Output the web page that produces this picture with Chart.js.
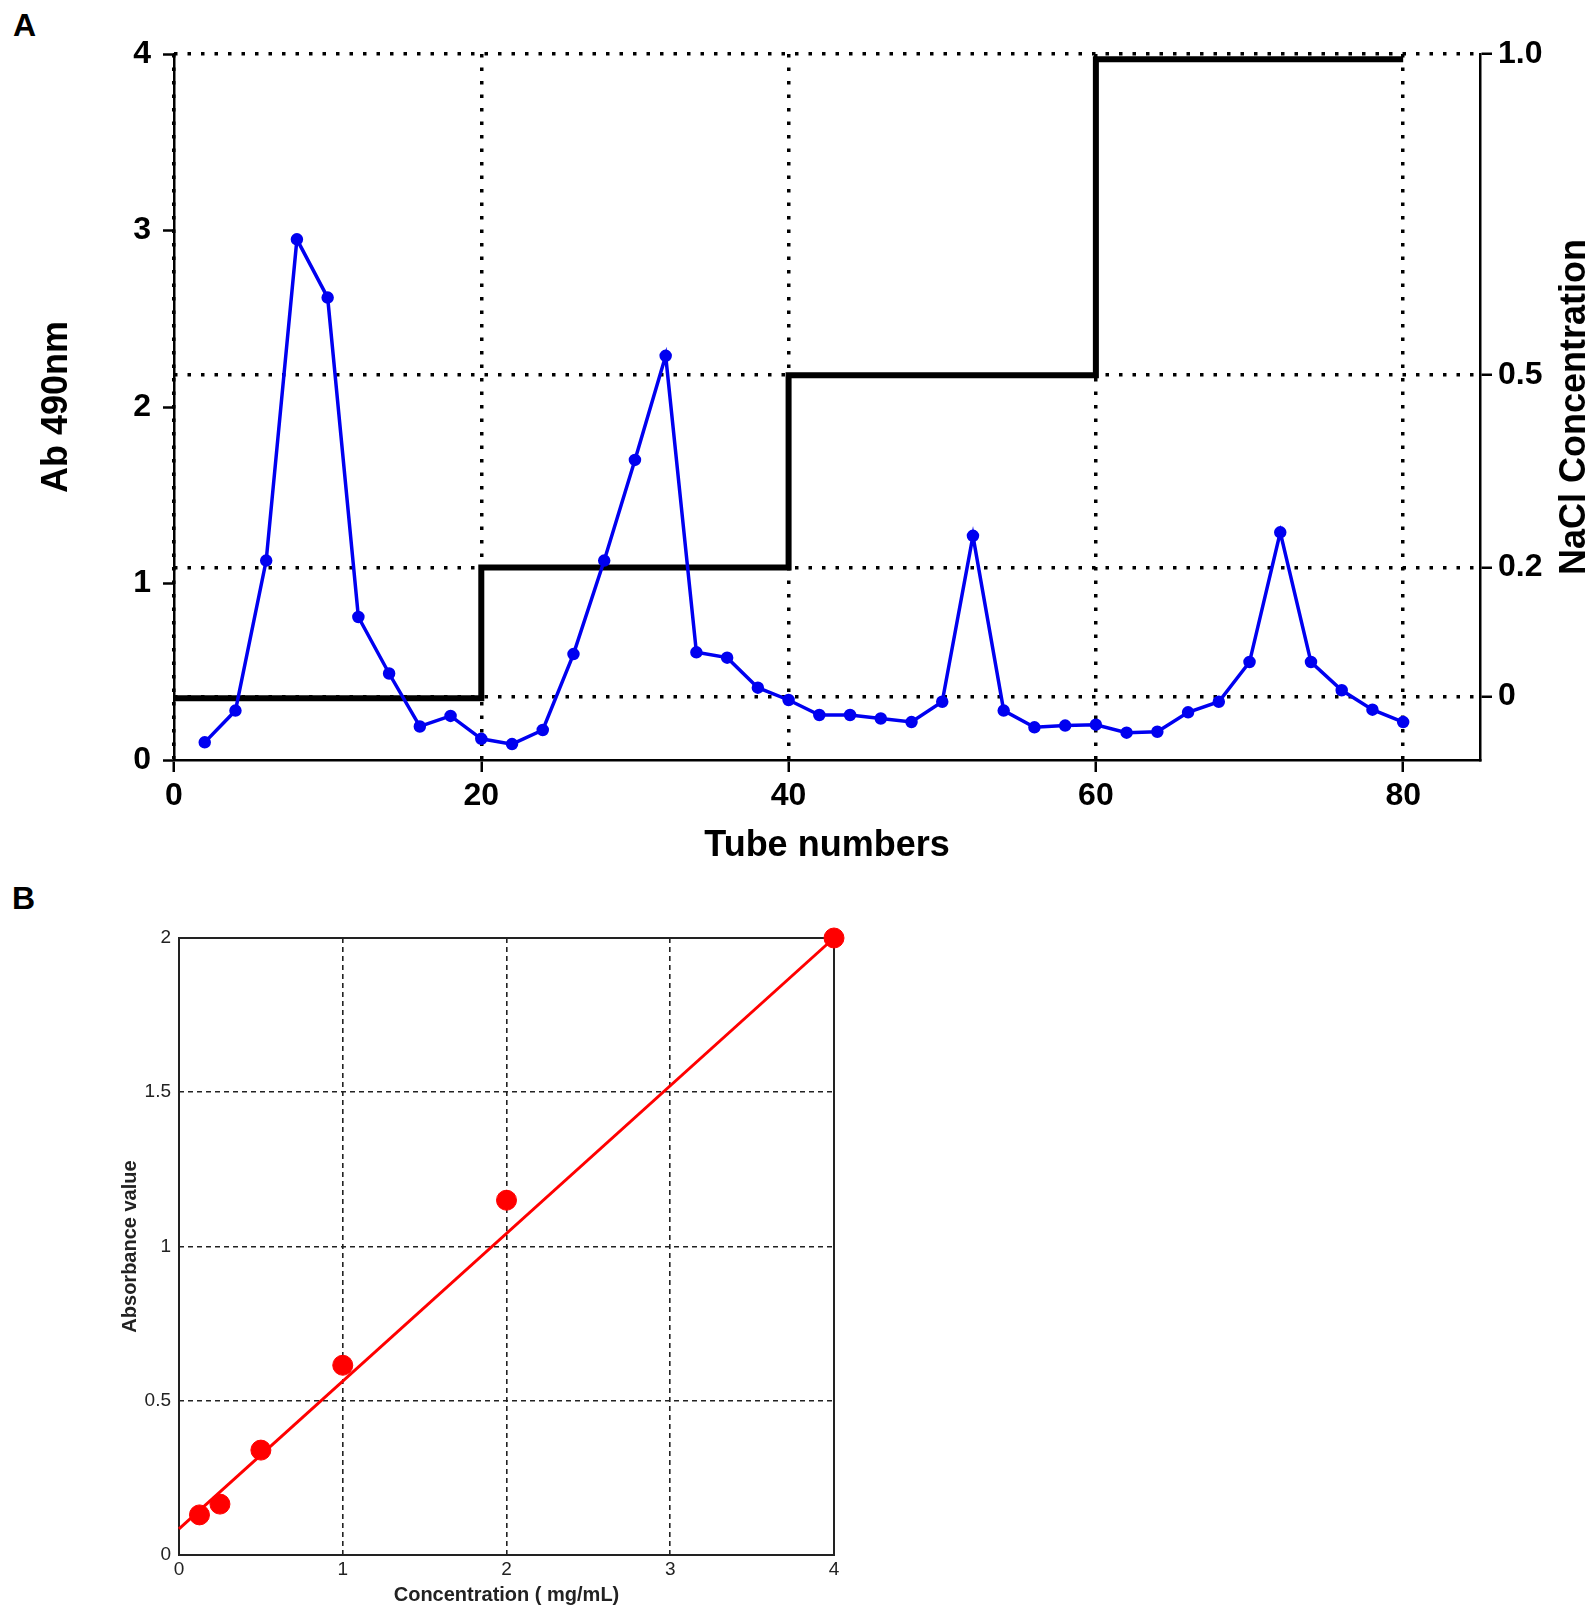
<!DOCTYPE html>
<html>
<head>
<meta charset="utf-8">
<script src="https://cdn.jsdelivr.net/npm/chart.js@4.4.1/dist/chart.umd.min.js"></script>
<style>
  html, body { margin: 0; padding: 0; background: #fff; overflow: hidden; }
  body { width: 1595px; height: 1613px; position: relative; font-family: 'Liberation Sans', Arial, sans-serif; }
  .panel { position: absolute; font-weight: bold; font-size: 32px; line-height: 1; color: #000; }
  #chartA { position: absolute; left: 0; top: 0; }
  #chartB { position: absolute; left: 0; top: 880px; }
</style>
</head>
<body>
<div class="panel" style="left:13px; top:9px;">A</div>
<div class="panel" style="left:12px; top:882px;">B</div>
<canvas id="chartA" width="1595" height="880"></canvas>
<canvas id="chartB" width="900" height="733"></canvas>
<script>
// Panel A: elution profile (Ab 490nm) with NaCl step gradient
const tubes = [2, 4, 6, 8, 10, 12, 14, 16, 18, 20, 22, 24, 26, 28, 30, 32, 34, 36, 38, 40,
               42, 44, 46, 48, 50, 52, 54, 56, 58, 60, 62, 64, 66, 68, 70, 72, 74, 76, 78, 80];
const absorbance = [0.10, 0.28, 1.13, 2.95, 2.62, 0.81, 0.49, 0.19, 0.25, 0.12,
                    0.09, 0.17, 0.60, 1.13, 1.70, 2.29, 0.61, 0.58, 0.41, 0.34,
                    0.255, 0.255, 0.235, 0.215, 0.33, 1.27, 0.28, 0.185, 0.195, 0.20,
                    0.155, 0.16, 0.27, 0.33, 0.555, 1.29, 0.555, 0.395, 0.285, 0.215];
const xTicksA = [0, 20, 40, 60, 80];

// NaCl axis is not linear: its labels sit at these heights of the Ab scale
const naclLabels = ['0', '0.2', '0.5', '1.0'];
const naclTickAb = [0.36, 1.09, 2.18, 4.0];
// step gradient, tube where each step starts and its height on the Ab scale
const stepTube = [0, 20, 40, 60, 80];
const stepLevelAb = [0.35, 1.09, 2.18, 3.97, 3.97];

// Panel B: standard curve
const concentration = [0.125, 0.25, 0.5, 1, 2, 4];
const absorbanceStd = [0.13, 0.165, 0.34, 0.615, 1.15, 2.0];
const fitX = [0, 4];
const fitY = [0.085, 2.0];

const FONT = "'Liberation Sans', Arial, sans-serif";

// right axis title reads bottom-to-top, so draw it here
const naclTitle = {
  id: 'naclTitle',
  afterDraw(chart) {
    const ctx = chart.ctx;
    const a = chart.chartArea;
    ctx.save();
    ctx.translate(chart.width - 20, (a.top + a.bottom) / 2);
    ctx.rotate(-Math.PI / 2);
    ctx.font = 'bold 36px ' + FONT;
    ctx.fillStyle = '#000';
    ctx.textAlign = 'center';
    ctx.textBaseline = 'middle';
    ctx.fillText('NaCl Concentration', 0, 0);
    ctx.restore();
  }
};

const dotted = [3.5, 10];

new Chart(document.getElementById('chartA'), {
  type: 'line',
  data: {
    datasets: [
      {
        label: 'Ab 490nm',
        data: tubes.map((t, i) => ({ x: t, y: absorbance[i] })),
        borderColor: '#0000f0',
        backgroundColor: '#0000f0',
        borderWidth: 3.5,
        pointRadius: 4.5,
        pointHoverRadius: 4.5,
        tension: 0,
        clip: false
      },
      {
        label: 'NaCl',
        data: stepTube.map((t, i) => ({ x: t, y: stepLevelAb[i] })),
        stepped: true,
        borderColor: '#000',
        borderWidth: 6,
        pointRadius: 0,
        clip: false
      }
    ]
  },
  options: {
    responsive: false,
    animation: false,
    layout: { padding: { top: 54, left: 0, right: 0, bottom: 0 } },
    plugins: { legend: { display: false }, tooltip: { enabled: false } },
    scales: {
      x: {
        type: 'linear',
        min: 0,
        max: 85,
        afterBuildTicks: s => { s.ticks = xTicksA.map(v => ({ value: v })); },
        afterFit: s => { s.height = 120; },
        ticks: { font: { family: FONT, size: 32, weight: 'bold' }, color: '#000', padding: 5, maxRotation: 0 },
        grid: { drawOnChartArea: true, color: '#000', lineWidth: 3.5, tickLength: 12, tickWidth: 2.5, tickColor: '#000' },
        border: { display: true, color: '#000', width: 2.5, dash: dotted },
        title: { display: true, text: 'Tube numbers', font: { family: FONT, size: 36, weight: 'bold' }, color: '#000', padding: { top: 0, bottom: 12 } }
      },
      y: {
        position: 'left',
        min: 0,
        max: 4,
        afterFit: s => { s.width = 174; },
        ticks: { stepSize: 1, font: { family: FONT, size: 32, weight: 'bold' }, color: '#000', padding: 12 },
        grid: { drawOnChartArea: false, tickLength: 11, tickWidth: 2.5, tickColor: '#000' },
        border: { display: true, color: '#000', width: 2.5 },
        title: { display: true, text: 'Ab 490nm', font: { family: FONT, size: 36, weight: 'bold' }, color: '#000', padding: { top: 35, bottom: 0 } }
      },
      y2: {
        position: 'right',
        min: 0,
        max: 4,
        afterBuildTicks: s => { s.ticks = naclTickAb.map(v => ({ value: v })); },
        afterFit: s => { s.width = 115; },
        ticks: {
          font: { family: FONT, size: 32, weight: 'bold' }, color: '#000', padding: 6,
          callback: (v, i) => naclLabels[i]
        },
        grid: { drawOnChartArea: true, color: '#000', lineWidth: 3.5, tickLength: 12, tickWidth: 2.5, tickColor: '#000' },
        border: { display: true, color: '#000', width: 2.5, dash: dotted }
      }
    }
  },
  plugins: [naclTitle]
});

// solid frame round the plot area of panel B
const boxFrame = {
  id: 'boxFrame',
  beforeDatasetsDraw(chart) {
    const a = chart.chartArea;
    const ctx = chart.ctx;
    ctx.save();
    ctx.strokeStyle = '#222';
    ctx.lineWidth = 2;
    ctx.strokeRect(a.left, a.top, a.right - a.left, a.bottom - a.top);
    ctx.restore();
  }
};

new Chart(document.getElementById('chartB'), {
  type: 'scatter',
  data: {
    datasets: [
      {
        label: 'Standard',
        data: concentration.map((c, i) => ({ x: c, y: absorbanceStd[i] })),
        backgroundColor: '#ff0000',
        borderColor: '#ff0000',
        pointRadius: 10,
        pointHoverRadius: 10,
        clip: false
      },
      {
        label: 'Fit',
        data: fitX.map((x, i) => ({ x: x, y: fitY[i] })),
        showLine: true,
        borderColor: '#ff0000',
        borderWidth: 3,
        pointRadius: 0,
        clip: false
      }
    ]
  },
  options: {
    responsive: false,
    animation: false,
    layout: { padding: { top: 58, left: 0, right: 66, bottom: 0 } },
    plugins: { legend: { display: false }, tooltip: { enabled: false } },
    scales: {
      x: {
        type: 'linear',
        min: 0,
        max: 4,
        afterFit: s => { s.height = 58; },
        ticks: { stepSize: 1, font: { family: FONT, size: 19 }, color: '#222', padding: 3, maxRotation: 0 },
        grid: { color: '#222', lineWidth: 1.6, drawTicks: false },
        border: { display: false, dash: [5, 4] },
        title: { display: true, text: 'Concentration ( mg/mL)', font: { family: FONT, size: 20, weight: 'bold' }, color: '#222', padding: { top: 0, bottom: 6 } }
      },
      y: {
        min: 0,
        max: 2,
        afterFit: s => { s.width = 179; },
        ticks: { stepSize: 0.5, font: { family: FONT, size: 19 }, color: '#222', padding: 8, callback: v => String(v) },
        grid: { color: '#222', lineWidth: 1.6, drawTicks: false },
        border: { display: false, dash: [5, 4] },
        title: { display: true, text: 'Absorbance value', font: { family: FONT, size: 20, weight: 'bold' }, color: '#222', padding: { top: 118, bottom: 0 } }
      }
    }
  },
  plugins: [boxFrame]
});
</script>
</body>
</html>
